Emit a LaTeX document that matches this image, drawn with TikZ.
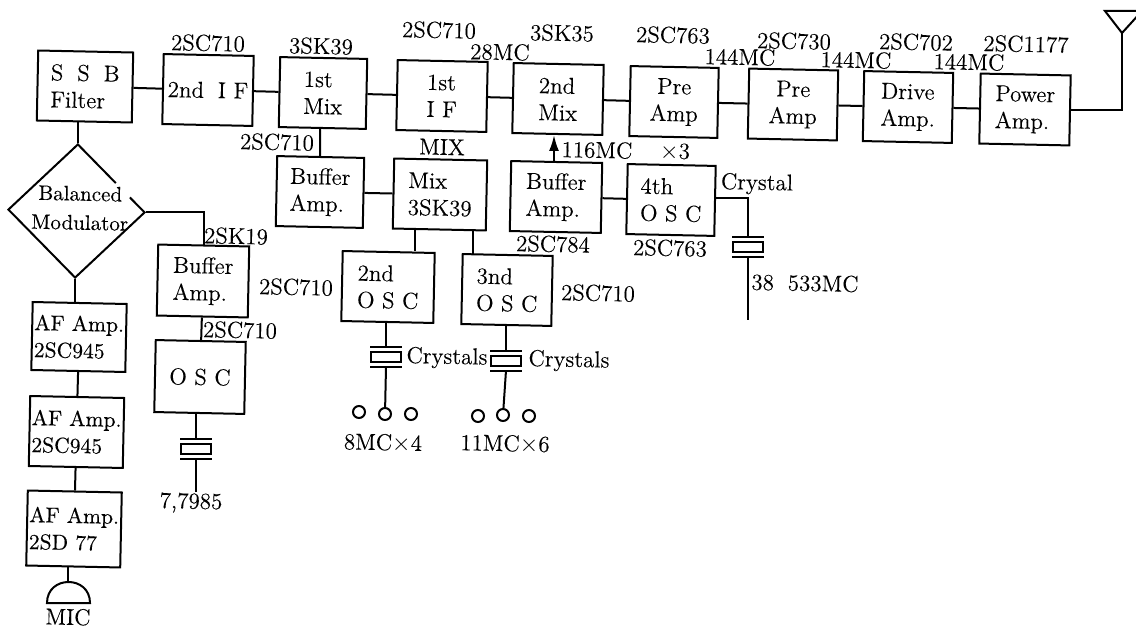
\documentclass[tikz,border=0pt]{standalone}
\usepackage{fontspec}
\setmainfont{Latin Modern Roman}[FakeBold=0.2]
\usetikzlibrary{shapes.geometric}
\usetikzlibrary{arrows.meta}

\tikzset{
    stage/.style={draw, rectangle, rotate=-1.2, minimum width=45pt, minimum height=35pt, inner sep=0pt, align=left, font=\fontsize{11.5}{13.5}\selectfont},
    audio/.style={stage, minimum width=47pt, font=\fontsize{10.8}{13.5}\selectfont},
    tag/.style={rotate=-1.2, inner sep=0pt, font=\fontsize{11.5}{13.5}\selectfont},
    xtal/.style={draw, rectangle, minimum width=15pt, minimum height=5pt, inner sep=0pt},
    pin/.style={draw, circle, minimum size=6pt, inner sep=0pt}
}

\begin{document}
\begin{tikzpicture}[x=0.5pt, y=-0.5pt, line width=1pt]
            \clip (0,0) rectangle (1136,631);

            % Transmit chain
            \node[stage, minimum width=47.5pt] (Filter) at (85,86.5) {S\; S\; B\\Filter};
            \node[stage] (IFtwo) at (208,90) {2nd\; I F};
            \node[stage, minimum width=43.5pt] (MixOne) at (323,93) {1st\\Mix};
            \node[stage] (IFone) at (442,96) {1st\\I F};
            \node[stage] (MixTwo) at (558,99) {2nd\\Mix};
            \node[stage, minimum width=44pt, align=center] (PreA) at (674,102) {Pre\\Amp};
            \node[stage, minimum width=44.5pt, align=center] (PreB) at (793,104.5) {Pre\\Amp};
            \node[stage, minimum width=44.5pt] (Drive) at (908,107) {Drive\\Amp.};
            \node[stage] (Power) at (1025,109.5) {Power\\Amp.};

            % Mixing row
            \node[stage, minimum width=43.5pt] (BufMix) at (320,192) {Buffer\\Amp.};
            \node[stage, minimum width=46.5pt] (MixOsc) at (440,194.5) {Mix\\3SK39};
            \node[stage, minimum width=45.5pt] (BufOsc) at (556,197) {Buffer\\Amp.};
            \node[stage, minimum width=44pt] (OscFour) at (671,200) {4th\\O S C};
            \node[stage, minimum width=46pt] (OscTwo) at (388,287) {2nd\\O S C};
            \node[stage, minimum width=45pt] (OscThree) at (507,290) {3nd\\O S C};

            % Modulator side
            \node[draw, diamond, rotate=-1.2, minimum width=68.5pt, minimum height=67pt, inner sep=0pt] (Bal) at (76.5,211) {};
            \draw[white, line width=2.4pt] (116,183) -- (130,197);
            \node[tag, align=center, font=\fontsize{10.5}{13.5}\selectfont] (BalText) at (80,208) {Balanced\\[1pt]Modulator};
            \node[stage, minimum width=45.5pt, minimum height=35.5pt] (BufLow) at (203,281) {Buffer\\Amp.};
            \node[stage, minimum height=36pt, align=center] (OscLow) at (200,377) {O S C};
            \node[audio, minimum height=34pt] (AFa) at (79,337) {AF Amp.\\2SC945};
            \node[audio] (AFb) at (76.5,432) {AF Amp.\\2SC945};
            \node[audio, minimum height=37.5pt] (AFc) at (74,529) {AF Amp.\\2SD 77};

            % Transistor and frequency labels
            \node[tag] (t1) at (208,43) {2SC710};
            \node[tag] (t2) at (321,46) {3SK39};
            \node[tag] (t3) at (439,30) {2SC710};
            \node[tag] (t4) at (500,52) {28MC};
            \node[tag] (t5) at (562,33) {3SK35};
            \node[tag] (t6) at (673,35) {2SC763};
            \node[tag] (t7) at (740,57) {144MC};
            \node[tag] (t8) at (794,41) {2SC730};
            \node[tag] (t9) at (856,60) {144MC};
            \node[tag] (t10) at (916,42) {2SC702};
            \node[tag] (t11) at (969,62) {144MC};
            \node[tag] (t12) at (1026,44) {2SC1177};
            \node[tag] (t13) at (277,142) {2SC710};
            \node[tag] (t14) at (442,147) {MIX};
            \node[tag] (t15) at (597,150) {116MC};
            \node[tag] (t16) at (675,152) {$\times$3};
            \node[tag] (t17) at (757,184) {Crystal};
            \node[tag] (t18) at (553,244) {2SC784};
            \node[tag] (t19) at (670,248) {2SC763};
            \node[tag] (t20) at (236,236) {2SK19};
            \node[tag] (t21) at (296,287) {2SC710};
            \node[tag] (t22) at (240,330) {2SC710};
            \node[tag] (t23) at (598,293) {2SC710};
            \node[tag] (t24) at (447,358) {Crystals};
            \node[tag] (t25) at (569,361) {Crystals};
            \node[tag] (t26) at (383,443) {8MC$\times$4};
            \node[tag] (t27) at (505,444) {11MC$\times$6};
            \node[tag] (t28) at (805,283) {38\; 533MC};
            \node[tag] (Freq) at (191,503) {7,7985};
            \node[tag] (Mic) at (68,617) {MIC};

            % Crystals
            \foreach \n/\x/\y in {A/196/448.5, B/386/357, C/506/360.5, D/748/247}{
                \node[xtal] (x\n) at (\x,\y) {};
                \coordinate (x\n t) at (\x,\y-10);
                \coordinate (x\n b) at (\x,\y+10);
                \draw (\x-16,\y-10) -- (\x+16,\y-10);
                \draw (\x-16,\y+10) -- (\x+16,\y+10);
            }

            % Selector contacts
            \foreach \n/\x/\y in {a/359/412, b/385/414, c/411/414, d/478/416, e/503/415, f/529/416}{
                \node[pin] (p\n) at (\x,\y) {};
            }

            % Main line
            \draw (Filter) -- (IFtwo);
            \draw (IFtwo) -- (MixOne);
            \draw (MixOne) -- (IFone);
            \draw (IFone) -- (MixTwo);
            \draw (MixTwo) -- (PreA);
            \draw (PreA) -- (PreB);
            \draw (PreB) -- (Drive);
            \draw (Drive) -- (Power);

            % Antenna
            \coordinate (Ant) at (1122,33);
            \draw (Power) -| (Ant);
            \draw (Ant) -- (1105,11) -- (1142,11) -- cycle;

            % Oscillator side
            \draw (MixOne.south -| BufMix) -- (BufMix);
            \draw (BufMix) -- (MixOsc);
            \draw[-{Latex[length=8pt,width=5pt]}] (BufOsc.north -| 554,0) -- (MixTwo.south -| 554,0);
            \draw (BufOsc) -- (OscFour);
            \draw (415,229) -- (OscTwo.north -| 415,0);
            \draw (473,229) -- (OscThree.north -| 473,0);
            \draw (OscFour.east |- 0,198) -| (xDt);
            \coordinate (Dend) at (748,320);
            \draw (xDb) -- (Dend);
            \draw (xBt |- OscTwo.south) -- (xBt);
            \draw (xBb) -- (pb);
            \draw (xCt |- OscThree.south) -- (xCt);
            \draw (xCb) -- (pe);

            % Modulator and audio
            \draw (Filter.south -| Bal.north) -- (Bal.north);
            \draw (Bal.east) -| (BufLow.north);
            \draw (Bal.south) -- (AFa.north -| Bal.south);
            \draw (AFa) -- (AFb);
            \draw (AFb) -- (AFc);
            \draw (BufLow) -- (OscLow);
            \draw (xAt |- OscLow.south) -- (xAt);
            \draw (xAb) -- (xAb |- Freq.north);

            % Microphone
            \coordinate (Dome) at (68,582);
            \draw (AFc.south -| Dome) -- (Dome);
            \draw (47,603) .. controls (47,575) and (90,575) .. (90,603) -- cycle;
        \end{tikzpicture}
\end{document}
